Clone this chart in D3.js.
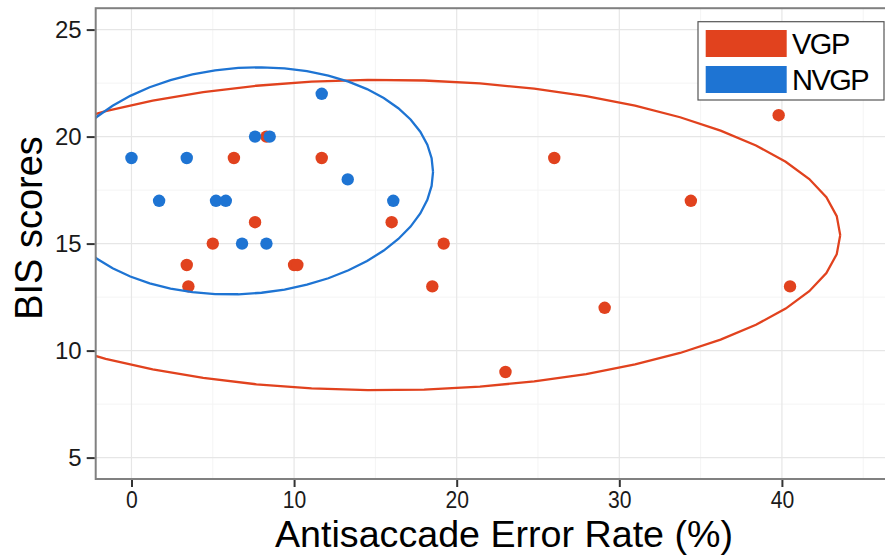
<!DOCTYPE html>
<html>
<head>
<meta charset="utf-8">
<script src="https://cdn.jsdelivr.net/npm/d3@7"></script>
<style>
  body { margin: 0; background: #fff; }
  svg { display: block; font-family: "Liberation Sans", Arial, sans-serif; }
</style>
</head>
<body>
<svg id="chart" width="885" height="558"></svg>
<script>
// values
const groups = ["VGP", "NVGP"];
const vgpError = [6.3, 8.3, 11.7, 7.6, 16.0, 5.0, 3.4, 10.0, 10.2, 3.5, 19.2, 18.5, 39.8, 26.0, 34.4, 40.5, 29.1, 23.0];
const vgpBis   = [19, 20, 19, 16, 16, 15, 14, 14, 14, 13, 15, 13, 21, 19, 17, 13, 12, 9];
const nvgpError = [0.0, 3.4, 1.7, 5.2, 5.8, 7.6, 8.5, 11.7, 13.3, 16.1, 6.8, 8.3];
const nvgpBis   = [19, 19, 17, 17, 17, 20, 20, 22, 18, 17, 15, 15];
const xTicks = [0, 10, 20, 30, 40];
const yTicks = [5, 10, 15, 20, 25];

const colors = { VGP: "#e1421e", NVGP: "#1e74d3" };

const svg = d3.select("#chart");

// panel scales (ggplot-style expanded limits)
const x = d3.scaleLinear().domain([-2.2, 48]).range([95.7, 912]);
const y = d3.scaleLinear().domain([4, 26]).range([479, 8.2]);

const data = [
  { key: "VGP", pts: vgpError.map((v, i) => [v, vgpBis[i]]) },
  { key: "NVGP", pts: nvgpError.map((v, i) => [v, nvgpBis[i]]) }
];

// MASS::cov.trob, as used by stat_ellipse(type = "t")
function covTrob(pts, nu = 5, maxit = 25, tol = 0.01) {
  const n = pts.length, p = 2;
  let w = pts.map(() => 1);
  let loc = [d3.mean(pts, d => d[0]), d3.mean(pts, d => d[1])];
  let X;
  for (let it = 0; it < maxit; it++) {
    const w0 = w.slice();
    X = pts.map(d => [d[0] - loc[0], d[1] - loc[1]]);
    const sw = d3.sum(w);
    let a = 0, b = 0, c = 0;
    X.forEach((r, i) => { a += w[i] * r[0] * r[0]; b += w[i] * r[0] * r[1]; c += w[i] * r[1] * r[1]; });
    a /= sw; b /= sw; c /= sw;
    const det = a * c - b * b;
    const Q = X.map(r => (c * r[0] * r[0] - 2 * b * r[0] * r[1] + a * r[1] * r[1]) / det);
    w = Q.map(q => (nu + p) / (nu + q));
    const sw2 = d3.sum(w);
    loc = [d3.sum(pts, (d, i) => w[i] * d[0]) / sw2, d3.sum(pts, (d, i) => w[i] * d[1]) / sw2];
    if (w.every((v, i) => Math.abs(v - w0[i]) < tol)) break;
  }
  let a = 0, b = 0, c = 0;
  X.forEach((r, i) => { a += w[i] * r[0] * r[0]; b += w[i] * r[0] * r[1]; c += w[i] * r[1] * r[1]; });
  return { center: loc, cov: [a / n, b / n, c / n] };
}

function ellipse(pts, level = 0.95, segments = 51) {
  const { center, cov } = covTrob(pts);
  const dfd = pts.length - 1;
  const qf = dfd / 2 * (Math.pow(1 - level, -2 / dfd) - 1); // F(2, dfd) quantile
  const radius = Math.sqrt(2 * qf);
  const r11 = Math.sqrt(cov[0]), r12 = cov[1] / r11, r22 = Math.sqrt(cov[2] - r12 * r12);
  return d3.range(segments + 1).map(k => {
    const t = k * 2 * Math.PI / segments;
    const cs = Math.cos(t), sn = Math.sin(t);
    return [center[0] + radius * cs * r11, center[1] + radius * (cs * r12 + sn * r22)];
  });
}

const [x0, x1] = x.range();
const [y0, y1] = y.range();

svg.append("defs").append("clipPath").attr("id", "panel")
  .append("rect").attr("x", x0).attr("y", y1).attr("width", x1 - x0).attr("height", y0 - y1);

// grid
const grid = svg.append("g");
const xMinor = d3.range(-5, 50, 10).filter(v => v > -2.2);
const yMinor = d3.range(7.5, 26, 5);
grid.selectAll(".xmin").data(xMinor).enter().append("line")
  .attr("x1", d => x(d)).attr("x2", d => x(d)).attr("y1", y0).attr("y2", y1)
  .attr("stroke", "#f4f4f4").attr("stroke-width", 1);
grid.selectAll(".ymin").data(yMinor).enter().append("line")
  .attr("y1", d => y(d)).attr("y2", d => y(d)).attr("x1", x0).attr("x2", x1)
  .attr("stroke", "#f4f4f4").attr("stroke-width", 1);
grid.selectAll(".xmaj").data(xTicks).enter().append("line")
  .attr("x1", d => x(d)).attr("x2", d => x(d)).attr("y1", y0).attr("y2", y1)
  .attr("stroke", "#e6e6e6").attr("stroke-width", 1.2);
grid.selectAll(".ymaj").data(yTicks).enter().append("line")
  .attr("y1", d => y(d)).attr("y2", d => y(d)).attr("x1", x0).attr("x2", x1)
  .attr("stroke", "#e6e6e6").attr("stroke-width", 1.2);

// points
const pts = svg.append("g").attr("clip-path", "url(#panel)");
data.forEach(g => {
  pts.selectAll(null).data(g.pts).enter().append("circle")
    .attr("cx", d => x(d[0])).attr("cy", d => y(d[1])).attr("r", 6.2)
    .attr("fill", colors[g.key]);
});

// ellipses
const line = d3.line().x(d => x(d[0])).y(d => y(d[1]));
const ell = svg.append("g").attr("clip-path", "url(#panel)");
data.forEach(g => {
  ell.append("path").attr("d", line(ellipse(g.pts)))
    .attr("fill", "none").attr("stroke", colors[g.key]).attr("stroke-width", 2.3);
});

// panel border
svg.append("rect").attr("x", x0).attr("y", y1).attr("width", x1 - x0).attr("height", y0 - y1)
  .attr("fill", "none").attr("stroke", "#808080").attr("stroke-width", 2);

// axes
const xAxis = svg.append("g").attr("transform", `translate(0,${y0 + 1})`)
  .call(d3.axisBottom(x).tickValues(xTicks).tickSize(7).tickPadding(4).tickFormat(d3.format("d")));
xAxis.select(".domain").remove();
xAxis.selectAll(".tick line").attr("stroke", "#333").attr("stroke-width", 2);
xAxis.selectAll(".tick text").attr("font-size", 24).attr("fill", "#1a1a1a")
  .attr("transform", "scale(0.88,1)").attr("x", 0)
  .each(function (d) { d3.select(this).attr("x", 0); });

const yAxis = svg.append("g").attr("transform", `translate(${x0 - 1},0)`)
  .call(d3.axisLeft(y).tickValues(yTicks).tickSize(8).tickPadding(5).tickFormat(d3.format("d")));
yAxis.select(".domain").remove();
yAxis.selectAll(".tick line").attr("stroke", "#333").attr("stroke-width", 2);
yAxis.selectAll(".tick text").attr("font-size", 24).attr("fill", "#1a1a1a");

// axis titles
svg.append("text").attr("x", 504).attr("y", 547).attr("text-anchor", "middle")
  .attr("font-size", 36).attr("textLength", 458).attr("lengthAdjust", "spacingAndGlyphs")
  .attr("fill", "#000").text("Antisaccade Error Rate (%)");
svg.append("text").attr("transform", "translate(42,228) rotate(-90)").attr("text-anchor", "middle")
  .attr("font-size", 38).attr("fill", "#000").text("BIS scores");

// legend
const lg = svg.append("g");
lg.append("rect").attr("x", 698).attr("y", 21.7).attr("width", 186).attr("height", 78.3)
  .attr("fill", "#fff").attr("stroke", "#555").attr("stroke-width", 1.2);
groups.forEach((k, i) => {
  const ky = 30 + i * 36;
  lg.append("rect").attr("x", 705.7).attr("y", ky).attr("width", 81).attr("height", 27)
    .attr("fill", colors[k]);
  lg.append("text").attr("x", 792).attr("y", ky + 24).attr("font-size", 29)
    .attr("letter-spacing", -1.5).attr("fill", "#000").text(k);
});
</script>
</body>
</html>
